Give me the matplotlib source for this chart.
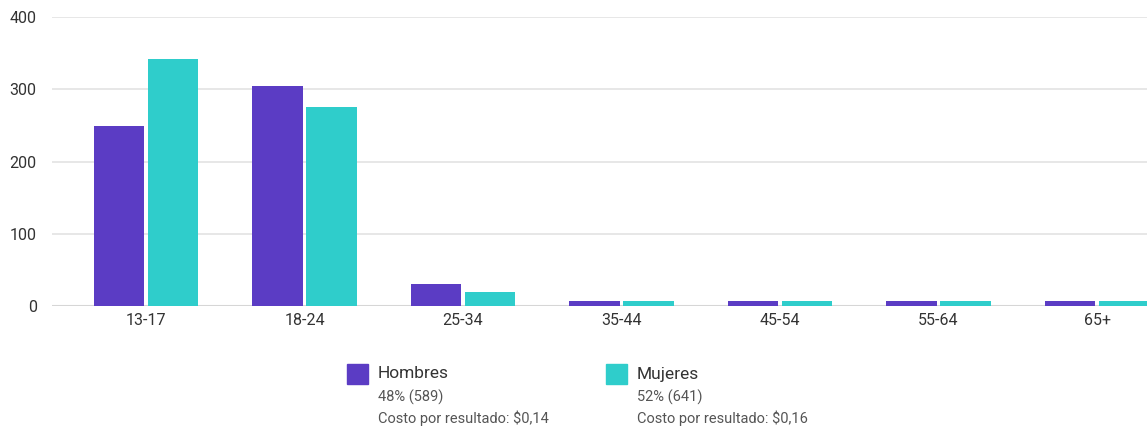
import numpy as np
import matplotlib.pyplot as plt

plt.rcParams['font.family'] = ['Roboto', 'DejaVu Sans']

# Data
age_groups = ['13-17', '18-24', '25-34', '35-44', '45-54', '55-64', '65+']
hombres = [249, 304, 31, 7, 7, 7, 7]
mujeres = [342, 275, 20, 7, 7, 7, 7]
series_names = ['Hombres', 'Mujeres']
series_share = ['48% (589)', '52% (641)']
series_cost = ['Costo por resultado: $0,14', 'Costo por resultado: $0,16']

purple = '#5b3cc4'
teal = '#2fcdcb'

fig = plt.figure(figsize=(11.47, 4.30), dpi=100)
# axes extends past the right edge, like the cropped original
ax = fig.add_axes([52 / 1147, 124 / 430, 1.0 - 52 / 1147, 289 / 430])

x = np.arange(len(age_groups))
w = 0.32
ax.bar(x - 0.17, hombres, width=w, color=purple, zorder=3)
ax.bar(x + 0.17, mujeres, width=w, color=teal, zorder=3)

ax.set_xlim(-0.593, 6.315)
ax.set_ylim(0, 400)
ax.set_yticks([0, 100, 200, 300, 400])
ax.set_xticks(x)
ax.set_xticklabels(age_groups)
ax.grid(axis='y', color='#e3e3e3', linewidth=1.2, zorder=0)
ax.axhline(0, color='#d6d6d6', linewidth=1.5, zorder=2)
for s in ax.spines.values():
    s.set_visible(False)
ax.tick_params(axis='both', length=0, labelsize=11.5, colors='#333333')
ax.tick_params(axis='y', pad=11)
ax.tick_params(axis='x', pad=5)

# custom legend below the chart
for i, (name, share, cost, col) in enumerate(zip(series_names, series_share, series_cost, [purple, teal])):
    x0 = [347, 606][i] / 1147
    sq = plt.Rectangle((x0, 1 - 384 / 430), 21 / 1147, 20 / 430, transform=fig.transFigure,
                       color=col, clip_on=False)
    fig.patches.append(sq)
    tx = x0 + 31 / 1147
    fig.text(tx, 1 - 374 / 430, name, fontsize=12.5, color='#333333', va='center')
    fig.text(tx, 1 - 397 / 430, share, fontsize=10.5, color='#555555', va='center')
    fig.text(tx, 1 - 418 / 430, cost, fontsize=10.5, color='#555555', va='center')

fig.savefig('out.png', dpi=100)
